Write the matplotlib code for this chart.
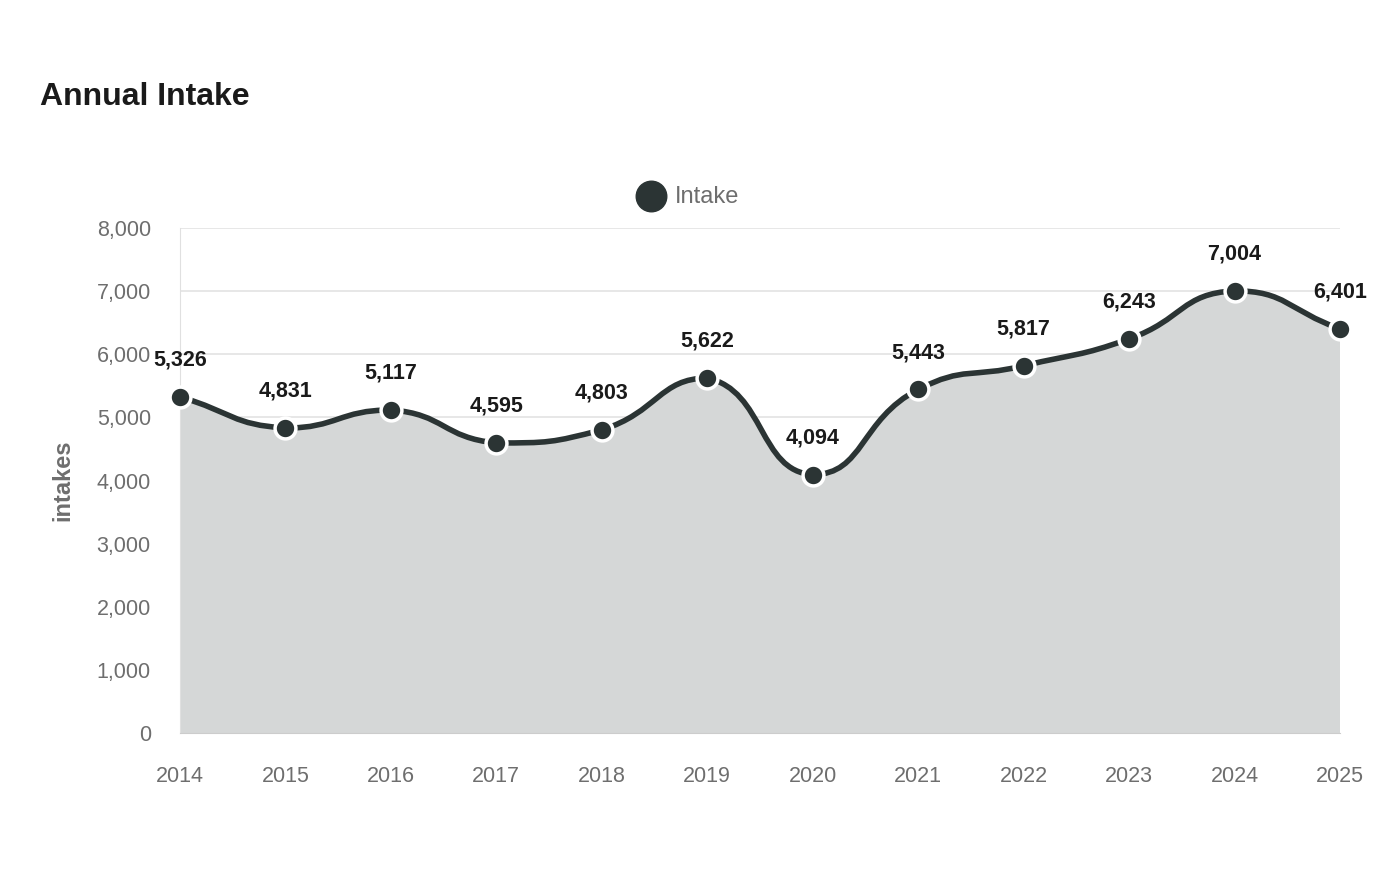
import numpy as np
import matplotlib
matplotlib.use('Agg')
from matplotlib import pyplot as plt
from matplotlib.path import Path
from matplotlib.patches import PathPatch

years = [2014, 2015, 2016, 2017, 2018, 2019, 2020, 2021, 2022, 2023, 2024, 2025]
intake = [5326, 4831, 5117, 4595, 4803, 5622, 4094, 5443, 5817, 6243, 7004, 6401]
y_ticks = [0, 1000, 2000, 3000, 4000, 5000, 6000, 7000, 8000]

line_color = '#2b3434'
fill_color = '#d5d7d7'
grid_color = '#e3e3e3'
tick_color = '#6e6e6e'

plt.rcParams['font.family'] = ['Liberation Sans', 'DejaVu Sans']

fig = plt.figure(figsize=(14, 8.8), dpi=100)
ax = fig.add_axes([180 / 1400, 1 - 733 / 880, 1160 / 1400, 505 / 880])
ax.set_xlim(years[0], years[-1])
ax.set_ylim(0, 8000)


def smooth_path(xs, ys, smooth=0.5):
    # bezier control points in pixel space, clamped to neighbour range
    pts = ax.transData.transform(np.column_stack([xs, ys]))
    n = len(pts)
    cps = []
    for i in range(n):
        cur = pts[i]
        prev = pts[i - 1] if i > 0 else cur
        nxt = pts[i + 1] if i < n - 1 else cur
        v = (nxt - prev) * smooth
        d0 = np.hypot(*(cur - prev))
        d1 = np.hypot(*(cur - nxt))
        s = d0 + d1
        if s:
            d0, d1 = d0 / s, d1 / s
        c0 = cur - v * d0
        c1 = cur + v * d1
        lo_y = min(prev[1], cur[1]); hi_y = max(prev[1], cur[1])
        c0[1] = np.clip(c0[1], lo_y, hi_y)
        lo_y = min(nxt[1], cur[1]); hi_y = max(nxt[1], cur[1])
        c1[1] = np.clip(c1[1], lo_y, hi_y)
        cps.append((c0, c1))
    verts = [pts[0]]
    codes = [Path.MOVETO]
    for i in range(n - 1):
        verts += [cps[i][1], cps[i + 1][0], pts[i + 1]]
        codes += [Path.CURVE4] * 3
    inv = ax.transData.inverted()
    return inv.transform(np.array(verts)), codes


verts, codes = smooth_path(years, intake)
area_verts = np.vstack([verts, [[years[-1], 0], [years[0], 0], verts[0]]])
area_codes = codes + [Path.LINETO, Path.LINETO, Path.CLOSEPOLY]
ax.add_patch(PathPatch(Path(area_verts, area_codes), facecolor=fill_color,
                       edgecolor='none', zorder=1))
ax.add_patch(PathPatch(Path(verts, codes), facecolor='none',
                       edgecolor=line_color, lw=4, zorder=3))
ax.plot(years, intake, 'o', ms=15, mfc=line_color, mec='white', mew=2.5,
        zorder=4, clip_on=False)

for x, y in zip(years, intake):
    ax.annotate(f'{y:,}', (x, y), xytext=(0, 19), textcoords='offset points',
                ha='center', va='bottom', fontsize=15.5, fontweight='bold',
                color='#1a1a1a', zorder=5)

ax.set_yticks(y_ticks)
ax.set_yticklabels([f'{v:,}' for v in y_ticks])
ax.set_xticks(years)
ax.yaxis.grid(True, color=grid_color, lw=1.2, zorder=0)
ax.set_axisbelow(True)
for side in ['top', 'right']:
    ax.spines[side].set_visible(False)
ax.spines['left'].set_color('#e0e0e0')
ax.spines['bottom'].set_color('#cccccc')
ax.tick_params(axis='both', length=0, labelsize=15.5, colors=tick_color)
ax.tick_params(axis='y', pad=21)
ax.tick_params(axis='x', pad=24)
ax.set_ylabel('intakes', fontsize=17, fontweight='bold', color=tick_color,
              labelpad=16)

fig.text(40 / 1400, 1 - 97 / 880, 'Annual Intake', fontsize=23,
         fontweight='bold', color='#1a1a1a', va='center')
fig.lines.append(plt.Line2D([651 / 1400], [1 - 196 / 880], marker='o',
                            ms=22, color=line_color, transform=fig.transFigure))
fig.text(675 / 1400, 1 - 197 / 880, 'Intake', fontsize=17, color=tick_color,
         va='center')

fig.savefig('out.png', dpi=100)
